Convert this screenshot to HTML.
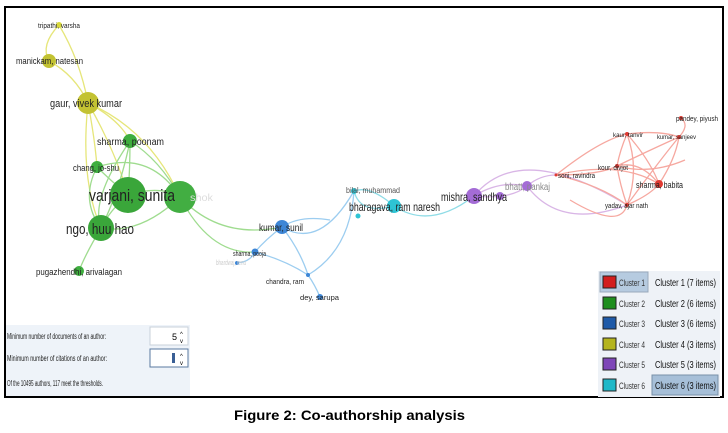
<!DOCTYPE html>
<html><head><meta charset="utf-8"><style>
html,body{margin:0;padding:0;background:#fff;width:728px;height:433px;overflow:hidden}
svg{display:block;font-family:"Liberation Sans",sans-serif}
</style></head><body>
<svg width="728" height="433" viewBox="0 0 728 433">
<rect x="5" y="7" width="718" height="390" fill="#fff" stroke="#000" stroke-width="2"/>
<g fill="none" stroke-width="1.3">
 <g stroke="#e6e67a">
  <path d="M59,25 Q80,60 88,103"/><path d="M59,25 Q40,45 49,61"/><path d="M49,61 Q75,75 88,103"/>
  <path d="M88,103 Q120,120 130,141"/><path d="M88,103 Q95,140 97,167"/><path d="M88,103 Q115,150 128,195"/><path d="M88,103 Q80,180 101,228"/><path d="M88,103 Q150,130 180,197"/>
 </g>
 <g stroke="#9fdc8f">
  <path d="M130,141 Q120,190 101,228"/><path d="M130,141 Q130,170 128,195"/><path d="M130,141 Q160,160 180,197"/><path d="M97,167 Q110,180 128,195"/><path d="M97,167 Q80,200 101,228"/>
  <path d="M128,195 Q110,210 101,228"/><path d="M180,197 Q140,235 101,228"/><path d="M97,167 Q150,150 180,197"/><path d="M101,228 Q85,255 79,271"/><path d="M128,195 Q160,185 180,197"/>
  <path d="M180,197 Q220,240 282,227"/><path d="M180,197 Q210,255 255,252"/><path d="M130,141 Q90,200 101,228"/>
 </g>
 <g stroke="#9ccdf0">
  <path d="M282,227 Q265,240 255,252"/><path d="M255,252 Q250,262 237,263"/><path d="M255,252 Q285,260 308,275"/><path d="M282,227 Q300,250 308,275"/><path d="M308,275 Q315,285 320,297"/><path d="M282,227 Q320,250 354,191"/><path d="M308,275 Q350,250 354,191"/><path d="M282,227 Q300,215 330,220"/>
 </g>
 <g stroke="#8fdce6">
  <path d="M354,191 Q360,215 394,206"/><path d="M354,191 Q370,185 394,206"/><path d="M394,206 Q430,230 474,196"/>
 </g>
 <g stroke="#d9b6e6">
  <path d="M474,196 Q500,180 527,186"/><path d="M474,196 Q510,200 527,186"/><path d="M474,196 Q520,140 627,205"/><path d="M527,186 Q560,230 627,205"/><path d="M527,186 Q540,175 556,175"/>
 </g>
 <g stroke="#f6a8a0">
  <path d="M556,175 Q600,140 627,134"/><path d="M556,175 Q600,175 617,166"/><path d="M556,175 Q620,160 659,184"/><path d="M556,175 Q600,185 627,205"/>
  <path d="M627,134 Q620,150 617,166"/><path d="M627,134 Q650,160 659,184"/><path d="M627,134 Q640,170 627,205"/><path d="M627,134 Q660,130 679,137"/>
  <path d="M617,166 Q640,160 659,184"/><path d="M617,166 Q620,185 627,205"/><path d="M617,166 Q650,150 679,137"/><path d="M659,184 Q650,195 627,205"/><path d="M627,205 Q660,160 679,137"/>
  <path d="M659,184 Q675,160 679,137"/><path d="M679,137 Q690,125 681,118"/><path d="M617,166 Q650,175 685,160"/><path d="M627,205 Q620,230 570,200"/>
 </g>
</g>
<g>
 <circle cx="59" cy="25" r="3" fill="#d8d83a"/><circle cx="49" cy="61" r="7" fill="#c2c232"/><circle cx="88" cy="103" r="11" fill="#c3c232"/>
 <circle cx="130" cy="141" r="7" fill="#3eae3e"/><circle cx="97" cy="167" r="6" fill="#3eae3e"/><circle cx="128" cy="195" r="18" fill="#3aa63a"/>
 <circle cx="180" cy="197" r="16" fill="#42ae42"/><circle cx="101" cy="228" r="13" fill="#3aa63a"/><circle cx="79" cy="271" r="5" fill="#3eae3e"/>
 <circle cx="282" cy="227" r="7" fill="#3d86d6"/><circle cx="255" cy="252" r="3.5" fill="#3d86d6"/><circle cx="237" cy="263" r="2" fill="#3d86d6"/>
 <circle cx="308" cy="275" r="2" fill="#3d86d6"/><circle cx="320" cy="297" r="3" fill="#3d86d6"/>
 <circle cx="354" cy="191" r="3" fill="#2ec4d4"/><circle cx="394" cy="206" r="7" fill="#2ec4d4"/><circle cx="358" cy="216" r="2.5" fill="#2ec4d4"/>
 <circle cx="474" cy="196" r="8" fill="#a46cd6"/><circle cx="500" cy="196" r="4" fill="#a46cd6"/><circle cx="527" cy="186" r="5" fill="#a46cd6"/>
 <circle cx="627" cy="134" r="2" fill="#e03a32"/><circle cx="679" cy="137" r="2" fill="#e03a32"/><circle cx="681" cy="118" r="2" fill="#e03a32"/>
 <circle cx="617" cy="166" r="2" fill="#e03a32"/><circle cx="659" cy="184" r="4" fill="#e03a32"/><circle cx="627" cy="205" r="2" fill="#e03a32"/><circle cx="556" cy="175" r="1.5" fill="#e03a32"/>
</g>
<g fill="#222" lengthAdjust="spacingAndGlyphs">
 <text x="38" y="28" font-size="7" textLength="42" lengthAdjust="spacingAndGlyphs">tripathi, varsha</text>
 <text x="16" y="64" font-size="9" textLength="67" lengthAdjust="spacingAndGlyphs">manickam, natesan</text>
 <text x="50" y="107" font-size="11" textLength="72" lengthAdjust="spacingAndGlyphs">gaur, vivek kumar</text>
 <text x="97" y="145" font-size="10" textLength="67" lengthAdjust="spacingAndGlyphs">sharma, poonam</text>
 <text x="73" y="171" font-size="9" textLength="46" lengthAdjust="spacingAndGlyphs">chang, jo-shu</text>
 <text x="89" y="201" font-size="17" textLength="86" lengthAdjust="spacingAndGlyphs">varjani, sunita</text>
 <text x="190" y="201" font-size="10" fill="#ddd" textLength="23" lengthAdjust="spacingAndGlyphs">shok</text>
 <text x="66" y="234" font-size="15" textLength="68" lengthAdjust="spacingAndGlyphs">ngo, huu hao</text>
 <text x="36" y="275" font-size="9" textLength="86" lengthAdjust="spacingAndGlyphs">pugazhendhi, arivalagan</text>
 <text x="259" y="231" font-size="10" textLength="44" lengthAdjust="spacingAndGlyphs">kumar, sunil</text>
 <text x="233" y="256" font-size="7.5" textLength="33" lengthAdjust="spacingAndGlyphs">sharma, pooja</text>
 <text x="216" y="265" font-size="7" fill="#ccc" textLength="30" lengthAdjust="spacingAndGlyphs">bhardwaj, renu</text>
 <text x="266" y="284" font-size="7.5" textLength="38" lengthAdjust="spacingAndGlyphs">chandra, ram</text>
 <text x="300" y="300" font-size="7.5" textLength="39" lengthAdjust="spacingAndGlyphs">dey, sarupa</text>
 <text x="346" y="193" font-size="8" fill="#555" textLength="54" lengthAdjust="spacingAndGlyphs">bilal, muhammad</text>
 <text x="349" y="211" font-size="12" textLength="91" lengthAdjust="spacingAndGlyphs">bharagava, ram naresh</text>
 <text x="441" y="201" font-size="12" textLength="66" lengthAdjust="spacingAndGlyphs">mishra, sandhya</text>
 <text x="505" y="190" font-size="10" fill="#888" textLength="45" lengthAdjust="spacingAndGlyphs">bhatt, pankaj</text>
 <text x="558" y="178" font-size="7" textLength="37" lengthAdjust="spacingAndGlyphs">soni, ravindra</text>
 <text x="613" y="137" font-size="6.5" textLength="30" lengthAdjust="spacingAndGlyphs">kaur, tanvir</text>
 <text x="657" y="139" font-size="6" textLength="39" lengthAdjust="spacingAndGlyphs">kumar, sanjeev</text>
 <text x="676" y="121" font-size="7" textLength="42" lengthAdjust="spacingAndGlyphs">pandey, piyush</text>
 <text x="598" y="170" font-size="7" textLength="30" lengthAdjust="spacingAndGlyphs">kour, divjot</text>
 <text x="636" y="188" font-size="9" textLength="47" lengthAdjust="spacingAndGlyphs">sharma, babita</text>
 <text x="605" y="208" font-size="7" textLength="43" lengthAdjust="spacingAndGlyphs">yadav, ajar nath</text>
</g>
<rect x="6" y="325" width="184" height="71" fill="#eef3f9"/>
<g font-size="8" fill="#222">
 <text x="7" y="339" textLength="99" lengthAdjust="spacingAndGlyphs">Minimum number of documents of an author:</text>
 <text x="7" y="361" textLength="100" lengthAdjust="spacingAndGlyphs">Minimum number of citations of an author:</text>
 <text x="7" y="386" textLength="96" lengthAdjust="spacingAndGlyphs">Of the 10495 authors, 117 meet the thresholds.</text>
</g>
<rect x="150" y="327" width="38" height="18" fill="#fff" stroke="#c8d0da"/>
<rect x="150" y="349" width="38" height="18" fill="#fff" stroke="#5a7aa0"/>
<text x="172" y="340" font-size="9">5</text><text x="180" y="336" font-size="6">^</text><text x="180" y="343" font-size="6">v</text>
<rect x="172" y="353" width="3" height="10" fill="#3a5f95"/><text x="180" y="358" font-size="6">^</text><text x="180" y="365" font-size="6">v</text>
<rect x="598" y="271" width="122" height="126" fill="#eef2f7"/>
<rect x="600" y="272" width="48" height="20" fill="#b6cbe0" stroke="#9ab"/>
<rect x="652" y="375" width="66" height="20" fill="#a6bfd8" stroke="#7890a8"/>
<g font-size="9" fill="#333">
 <rect x="603" y="276" width="13" height="12" fill="#d21e1e" stroke="#222"/><text x="619" y="286" textLength="26" lengthAdjust="spacingAndGlyphs">Cluster 1</text>
 <rect x="603" y="297" width="13" height="12" fill="#1e8e1e" stroke="#222"/><text x="619" y="307" textLength="26" lengthAdjust="spacingAndGlyphs">Cluster 2</text>
 <rect x="603" y="317" width="13" height="12" fill="#1e5aa8" stroke="#222"/><text x="619" y="327" textLength="26" lengthAdjust="spacingAndGlyphs">Cluster 3</text>
 <rect x="603" y="338" width="13" height="12" fill="#b4b41e" stroke="#222"/><text x="619" y="348" textLength="26" lengthAdjust="spacingAndGlyphs">Cluster 4</text>
 <rect x="603" y="358" width="13" height="12" fill="#7e46b8" stroke="#222"/><text x="619" y="368" textLength="26" lengthAdjust="spacingAndGlyphs">Cluster 5</text>
 <rect x="603" y="379" width="13" height="12" fill="#1eb8c8" stroke="#222"/><text x="619" y="389" textLength="26" lengthAdjust="spacingAndGlyphs">Cluster 6</text>
</g>
<g font-size="10" fill="#111">
 <text x="655" y="286" textLength="61" lengthAdjust="spacingAndGlyphs">Cluster 1 (7 items)</text>
 <text x="655" y="307" textLength="61" lengthAdjust="spacingAndGlyphs">Cluster 2 (6 items)</text>
 <text x="655" y="327" textLength="61" lengthAdjust="spacingAndGlyphs">Cluster 3 (6 items)</text>
 <text x="655" y="348" textLength="61" lengthAdjust="spacingAndGlyphs">Cluster 4 (3 items)</text>
 <text x="655" y="368" textLength="61" lengthAdjust="spacingAndGlyphs">Cluster 5 (3 items)</text>
 <text x="655" y="389" textLength="61" lengthAdjust="spacingAndGlyphs">Cluster 6 (3 items)</text>
</g>
<text x="234" y="420" font-size="14" font-weight="bold" fill="#000" textLength="231" lengthAdjust="spacingAndGlyphs">Figure 2: Co-authorship analysis</text>
</svg>
</body></html>
